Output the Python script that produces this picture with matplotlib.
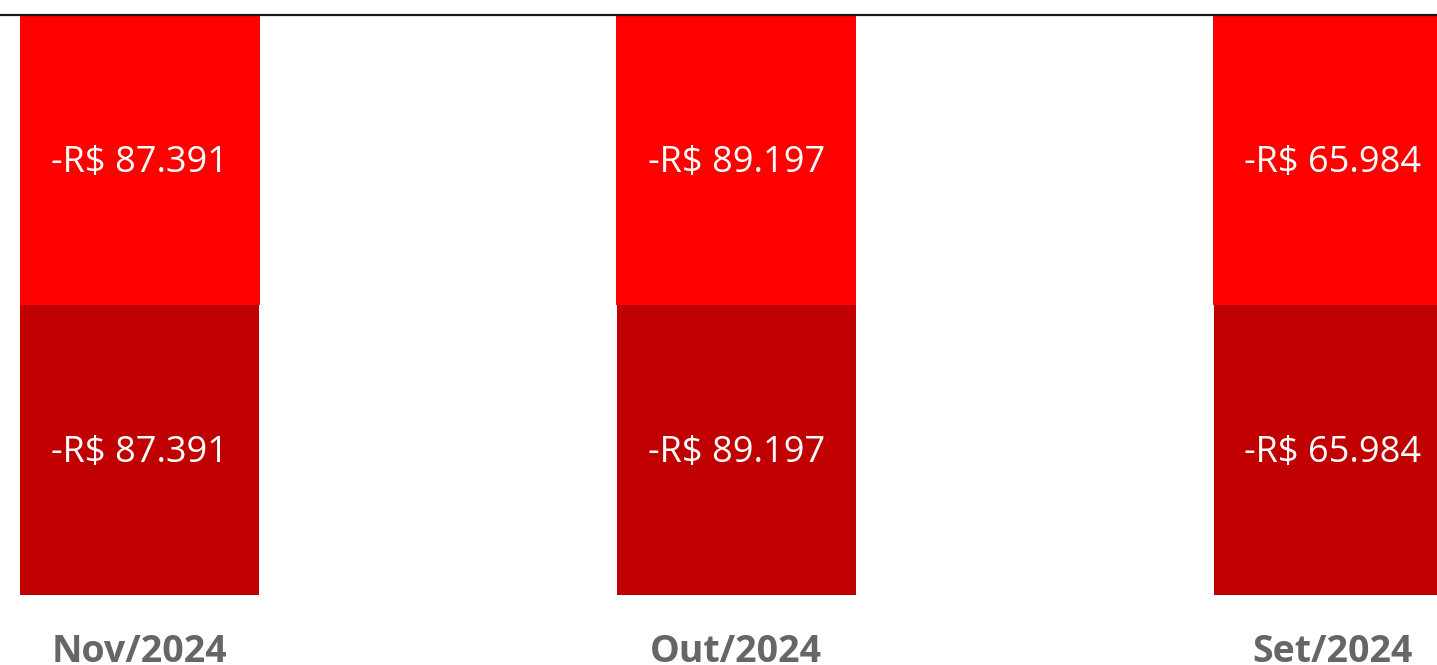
import matplotlib
matplotlib.use("Agg")
import matplotlib.pyplot as plt
import numpy as np

categories = ["Nov/2024", "Out/2024", "Set/2024"]
series_top = [-87391, -89197, -65984]
series_bottom = [-87391, -89197, -65984]
colors = ["#FF0000", "#C00000"]

def fmt(v):
    s = f"{abs(v):,.0f}".replace(",", ".")
    return f"-R$ {s}" if v < 0 else f"R$ {s}"

W, H = 1437, 665
fig = plt.figure(figsize=(W / 100, H / 100), dpi=100)
ax = fig.add_axes([0, 1 - 594.5 / H, 1, (594.5 - 15) / H])

x = np.arange(len(categories))
top = np.array(series_top, dtype=float)
bot = np.array(series_bottom, dtype=float)
tot = np.abs(top) + np.abs(bot)
top_pct = np.abs(top) / tot * 100
bot_pct = np.abs(bot) / tot * 100

width = 240 / 596.5
ax.bar(x, -top_pct, width=width, color=colors[0])
ax.bar(x, -bot_pct, bottom=-top_pct, width=width * 0.995, color=colors[1])

for i in range(len(x)):
    ax.text(x[i], -top_pct[i] / 2 - 0.6, fmt(top[i]), ha="center", va="center",
            color="white", fontsize=26, family="Open Sans")
    ax.text(x[i], -top_pct[i] - bot_pct[i] / 2 - 0.6, fmt(bot[i]), ha="center", va="center",
            color="white", fontsize=26, family="Open Sans")

ax.set_xlim(-139.5 / 596.5, 2 + (1437 - 1333) / 596.5)
ax.set_ylim(-100, 0)
for s in ["left", "right", "bottom"]:
    ax.spines[s].set_visible(False)
ax.spines["top"].set_color("#1a1a1a")
ax.spines["top"].set_linewidth(1.6)
ax.set_yticks([])
ax.set_xticks(x)
ax.set_xticklabels(categories, fontsize=27, fontweight="bold", color="#666666", family="Open Sans")
ax.tick_params(axis="x", length=0, pad=28)

fig.savefig("out.png", dpi=100)
